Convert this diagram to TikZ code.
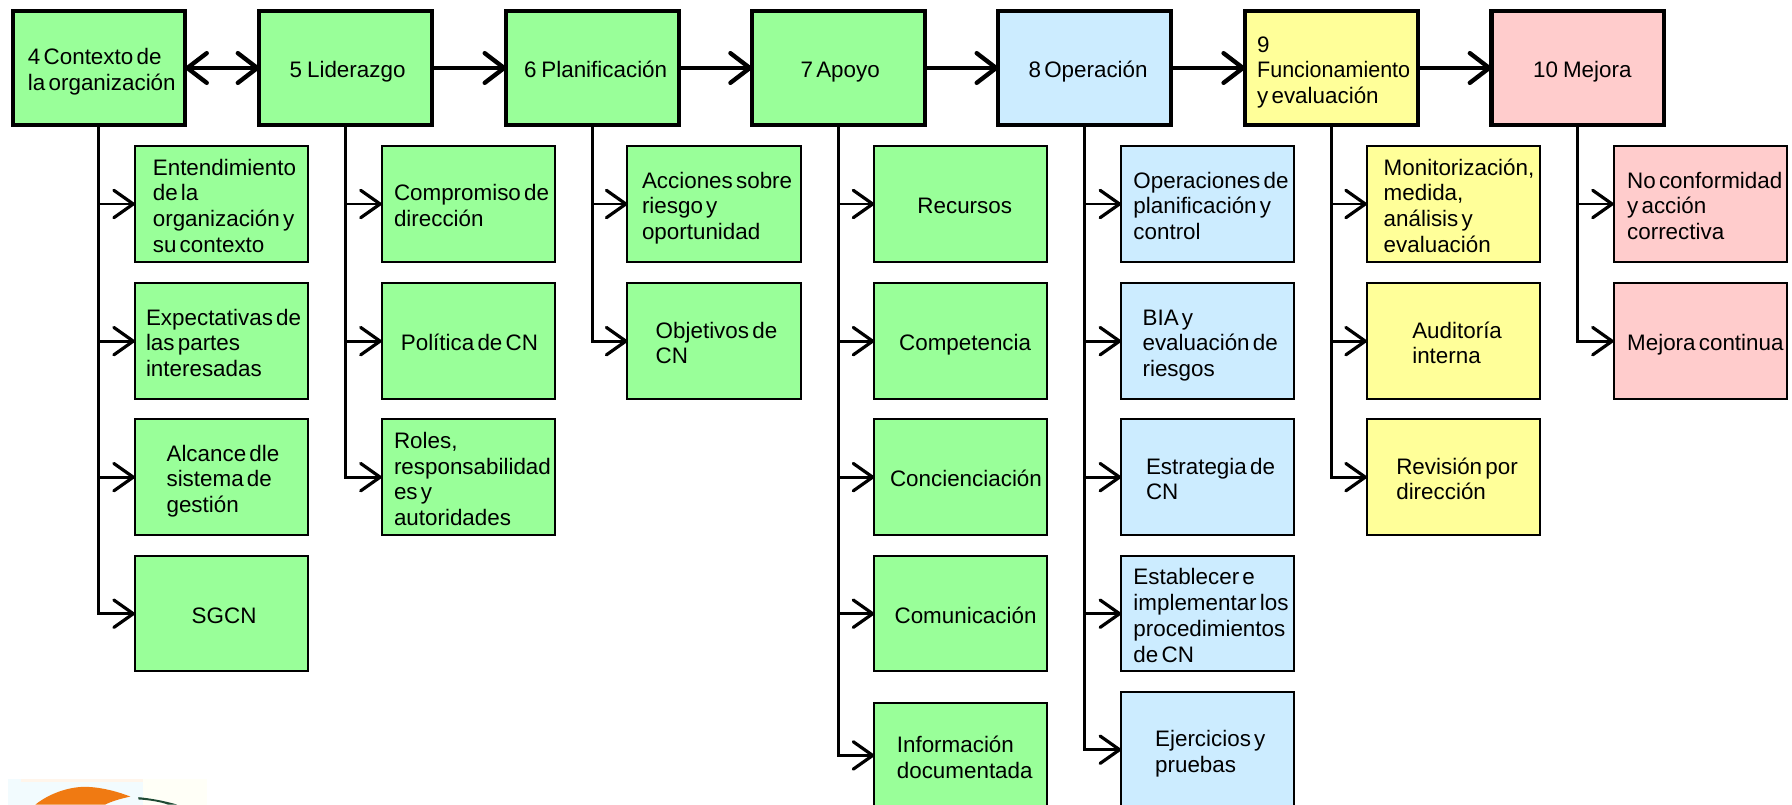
\documentclass[tikz,border=0pt]{standalone}
\usepackage{fontspec}
\setmainfont[WordSpace=0.52]{Liberation Sans}
\usetikzlibrary{arrows.meta}
\definecolor{cgreen}{HTML}{99FF99}
\definecolor{cblue}{HTML}{CCECFF}
\definecolor{cyellow}{HTML}{FFFF99}
\definecolor{cpink}{HTML}{FFCCCC}
\definecolor{logoorange}{HTML}{F07A12}
\definecolor{logogreen}{HTML}{1F4A34}
\tikzset{
  x=1pt,y=-1pt,
  boxbase/.style={draw=black,rectangle,anchor=north west,inner sep=0pt,outer sep=0pt,
    font=\fontsize{19.6}{22.5}\selectfont,line join=miter},
  main/.style={boxbase,line width=3.6pt,minimum width=151pt,minimum height=99pt},
  sub/.style={boxbase,line width=1.8pt,minimum width=151.5pt,minimum height=101pt},
  hlink/.style={line width=4pt,-{Straight Barb[length=17pt,width=26pt,line width=3.8pt,round]}},
  blink/.style={line width=4pt,{Straight Barb[length=17pt,width=26pt,line width=3.8pt,round]}-{Straight Barb[length=17pt,width=26pt,line width=3.8pt,round]}},
  trunk/.style={line width=2.6pt,-{Straight Barb[length=17pt,width=24pt,line width=2.8pt,round]}},
}
\newcommand{\bx}[7]{% style, name, x, y, fill, offset, text
  \node[#1,fill=#5] (#2) at (#3,#4) {\vbox{\kern8pt\hbox{\makebox[150pt][l]{\hspace*{#6pt}\begin{tabular}{@{}l@{}}#7\end{tabular}}}}};}
\newcommand{\nr}[1]{#1\kern1.5pt\ }
\begin{document}
\begin{tikzpicture}
\useasboundingbox (0,0) rectangle (1568,704);
\clip (0,0) rectangle (1568,704);
\fill[white] (0,0) rectangle (1568,704);

% logo
\fill[cyan!5] (7,682) rectangle (125,704);
\fill[orange!8] (18,682) rectangle (125,684);
\fill[yellow!3] (125,682) rectangle (181,704);
\fill[logoorange] (31,704) .. controls (42,695) and (60,688) .. (76,688.5) .. controls (90,689) and (104,693) .. (114,697) .. controls (105,699) and (98,701) .. (92,704) -- cycle;
\fill[logogreen] (121,697.5) .. controls (132,698.5) and (145,701) .. (155,704) -- (147,704) .. controls (140,701.5) and (130,700) .. (121,699.5) -- cycle;

% main boxes
\bx{main}{m4}{11}{10}{cgreen}{13}{4 Contexto de\\la organización}
\bx{main}{m5}{227}{10}{cgreen}{26}{\nr{5}Liderazgo}
\bx{main}{m6}{443}{10}{cgreen}{15}{\nr{6}Planificación}
\bx{main}{m7}{658}{10}{cgreen}{42}{7 Apoyo}
\bx{main}{m8}{873.5}{10}{cblue}{26}{8 Operación}
\bx{main}{m9}{1089.5}{10}{cyellow}{10}{9\\\scalebox{0.96}[1]{Funcionamiento}\\y evaluación}
\bx{main}{m10}{1305}{10}{cpink}{36}{\nr{10}Mejora}

% column 4
\bx{sub}{a1}{118}{128}{cgreen}{15}{Entendimiento\\de la\\organización y\\su contexto}
\bx{sub}{a2}{118}{248}{cgreen}{9}{Expectativas de\\las partes\\interesadas}
\bx{sub}{a3}{118}{367}{cgreen}{27}{Alcance dle\\sistema de\\gestión}
\bx{sub}{a4}{118}{486.5}{cgreen}{49}{SGCN}
% column 5
\bx{sub}{b1}{334}{128}{cgreen}{10}{Compromiso de\\dirección}
\bx{sub}{b2}{334}{248}{cgreen}{16}{Política de CN}
\bx{sub}{b3}{334}{367}{cgreen}{10}{Roles,\\responsabilidad\\es y\\autoridades}
% column 6
\bx{sub}{c1}{549}{128}{cgreen}{12}{Acciones sobre\\riesgo y\\oportunidad}
\bx{sub}{c2}{549}{248}{cgreen}{24}{Objetivos de\\CN}
% column 7
\bx{sub}{d1}{765}{128}{cgreen}{37}{Recursos}
\bx{sub}{d2}{765}{248}{cgreen}{21}{Competencia}
\bx{sub}{d3}{765}{367}{cgreen}{13}{Concienciación}
\bx{sub}{d4}{765}{486.5}{cgreen}{17}{Comunicación}
\bx{sub,minimum height=92pt}{d5}{765}{615}{cgreen}{19}{Información\\documentada}
% column 8
\bx{sub}{e1}{981}{128}{cblue}{10}{Operaciones de\\planificación y\\control}
\bx{sub}{e2}{981}{248}{cblue}{18}{BIA y\\evaluación de\\riesgos}
\bx{sub}{e3}{981}{367}{cblue}{21}{Estrategia de\\CN}
\bx{sub}{e4}{981}{486.5}{cblue}{10}{Establecer e\\implementar los\\procedimientos\\de CN}
\bx{sub}{e5}{981}{605.5}{cblue}{29}{Ejercicios y\\pruebas}
% column 9
\bx{sub}{f1}{1196}{128}{cyellow}{14}{Monitorización,\\medida,\\análisis y\\evaluación}
\bx{sub}{f2}{1196}{248}{cyellow}{39}{Auditoría\\interna}
\bx{sub}{f3}{1196}{367}{cyellow}{25}{Revisión por\\dirección}
% column 10
\bx{sub}{g1}{1412}{128}{cpink}{11}{No conformidad\\y acción\\correctiva}
\bx{sub}{g2}{1412}{248}{cpink}{11}{Mejora continua}

% horizontal links
\draw[blink] (m4.east) -- (m5.west);
\draw[hlink] (m5.east) -- (m6.west);
\draw[hlink] (m6.east) -- (m7.west);
\draw[hlink] (m7.east) -- (m8.west);
\draw[hlink] (m8.east) -- (m9.west);
\draw[hlink] (m9.east) -- (m10.west);

% branches
\foreach \p/\list in {m4/{a1,a2,a3,a4},m5/{b1,b2,b3},m6/{c1,c2},m7/{d1,d2,d3,d4,d5},m8/{e1,e2,e3,e4,e5},m9/{f1,f2,f3},m10/{g1,g2}}{
  \foreach \c in \list { \draw[trunk] (\p.south) |- (\c.west); }
}
\end{tikzpicture}
\end{document}
